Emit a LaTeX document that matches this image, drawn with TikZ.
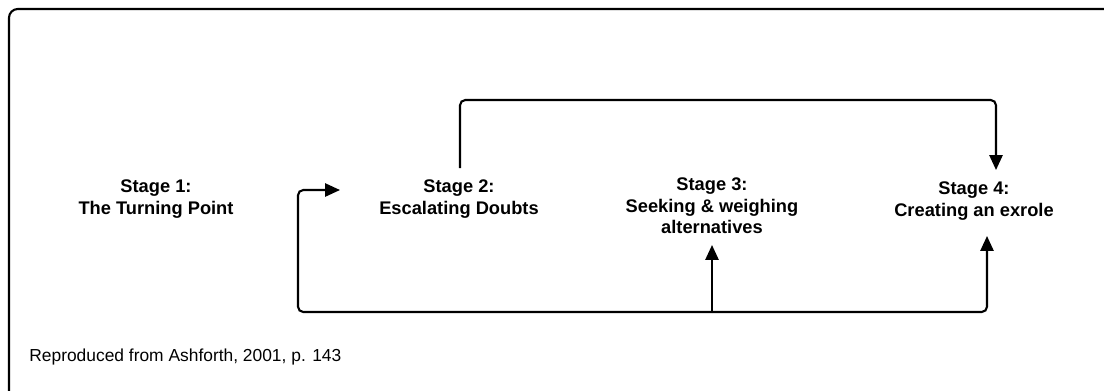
\documentclass[tikz,border=0pt]{standalone}
\usepackage{fontspec}
\setmainfont{Liberation Sans}
\usetikzlibrary{arrows.meta}
\begin{document}
\begin{tikzpicture}[x=0.02cm,y=-0.02cm,
  stage/.style={align=center,font=\bfseries\fontsize{10.4}{12.3}\selectfont,inner sep=0pt},
  link/.style={line width=1.2pt,rounded corners=3pt},
  tip/.style={-{Triangle[length=8.5pt,width=7.5pt]}}]
\useasboundingbox (0,0) rectangle (1104,390);
% frame, running off the right and bottom edges
\begin{scope}
\clip (0,0) rectangle (1104,390);
\draw[line width=1.2pt,rounded corners=5pt] (9,400) -- (9,9) -- (1120,9);
\end{scope}
% stages
\node[stage] (s1) at (156,199) {Stage 1:\\The Turning Point};
\node[stage] (s2) at (459,199) {Stage 2:\\Escalating Doubts};
\node[stage] (s3) at (712,206) {Stage 3:\\Seeking \& weighing\\alternatives};
\node[stage] (s4) at (974,201) {Stage 4:\\Creating an exrole};
% connector end points
\coordinate (s2top) at (460,168);
\coordinate (s2left) at (340,190);
\coordinate (s3bot) at (712,245);
\coordinate (s4top) at (996,170);
\coordinate (s4bot) at (987,236);
\coordinate (fork) at (712,312);
% stage 2 to stage 4, over the top
\draw[link,tip] (s2top) -- (460,100) -- (996,100) -- (s4top);
% return loop along the bottom
\draw[link,tip] (fork) -- (298,312) -- (298,190) -- (s2left);
\draw[link,tip] (fork) -- (987,312) -- (s4bot);
\draw[link,tip] (fork) -- (s3bot);
% source note
\node[anchor=west,font=\fontsize{9.9}{12}\selectfont,inner sep=0pt] (src) at (29,357) {Reproduced from Ashforth, 2001, p. 143};
\end{tikzpicture}
\end{document}
